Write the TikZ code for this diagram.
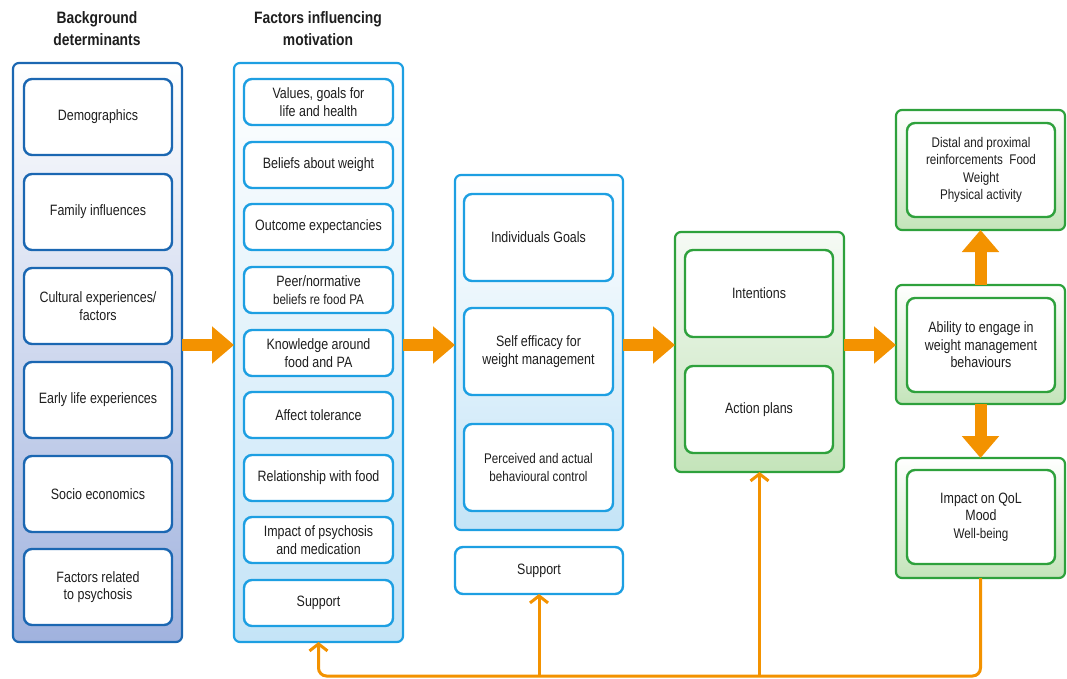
\documentclass[tikz,border=0pt]{standalone}
\usepackage{fontspec}
\setmainfont{Liberation Sans}[FakeStretch=0.83]
\newfontfamily\titlefont{Liberation Sans}[FakeStretch=0.84]
\usetikzlibrary{arrows.meta}
\definecolor{dblue}{HTML}{1B67B2}
\definecolor{lblue}{HTML}{1D9FE2}
\definecolor{grn}{HTML}{2EA13C}
\definecolor{org}{HTML}{F39200}
\definecolor{txt}{HTML}{1E1E1E}
\begin{document}
\begin{tikzpicture}[x=1pt,y=-1pt,
  every node/.style={inner sep=0pt, outer sep=0pt, anchor=north west, text=txt, align=center, font=\fontsize{15}{17.5}\selectfont},
  col1/.style={draw=dblue, line width=2.2pt, rounded corners=6pt, top color=white, middle color=blue!3, bottom color={rgb,255:red,160;green,178;blue,222}},
  col2/.style={draw=lblue, line width=2.2pt, rounded corners=6pt, top color=white, middle color=cyan!3, bottom color={rgb,255:red,196;green,228;blue,247}},
  col4/.style={draw=grn, line width=2.2pt, rounded corners=6pt, top color={rgb,255:red,246;green,250;blue,245}, middle color={rgb,255:red,242;green,248;blue,240}, bottom color={rgb,255:red,196;green,228;blue,186}},
  col5/.style={draw=grn, line width=2.2pt, rounded corners=6pt, top color=white, middle color=white, bottom color={rgb,255:red,196;green,228;blue,186}},
  in1/.style={draw=dblue, line width=2.4pt, rounded corners=8pt, fill=white, minimum width=148pt, minimum height=76pt},
  in2/.style={draw=lblue, line width=2.4pt, rounded corners=8pt, fill=white, minimum width=149pt, minimum height=46pt},
  in3/.style={draw=lblue, line width=2.4pt, rounded corners=8pt, fill=white, minimum width=149pt, minimum height=87pt},
  in4/.style={draw=grn, line width=2.4pt, rounded corners=8pt, fill=white, minimum width=148pt, minimum height=87pt},
  in5/.style={draw=grn, line width=2.4pt, rounded corners=8pt, fill=white, minimum width=148pt, minimum height=94pt},
  title/.style={font=\titlefont\bfseries\fontsize{16.5}{22}\selectfont, anchor=center},
  blk/.style={draw=org, line width=12pt, -{Triangle[length=22pt,width=36pt]}},
  fb/.style={draw=org, line width=3pt},
  fbtip/.style={-{Straight Barb[length=7pt,width=18pt]}}
]
\useasboundingbox (0,0) rectangle (1067,679);

% titles
\node[title] (t1) at (97,29) {Background\\determinants};
\node[title] (t2) at (318,29) {Factors influencing\\motivation};

% outer boxes
\node[col1, minimum width=169pt, minimum height=579pt] (c1) at (13,63) {};
\node[col2, minimum width=169pt, minimum height=579pt] (c2) at (234,63) {};
\node[col2, minimum width=168pt, minimum height=355pt] (c3) at (455,175) {};
\node[draw=lblue, line width=2.4pt, rounded corners=8pt, fill=white, minimum width=168pt, minimum height=47pt] (c3s) at (455,547) {Support};
\node[col4, minimum width=169pt, minimum height=240pt] (c4) at (675,232) {};
\node[col5, minimum width=169pt, minimum height=120pt] (r1) at (896,110) {};
\node[col5, minimum width=169pt, minimum height=119pt] (r2) at (896,285) {};
\node[col5, minimum width=169pt, minimum height=120pt] (r3) at (896,458) {};

% column 1
\node[in1] (a1) at (24,79) {Demographics};
\node[in1] (a2) at (24,174) {Family influences};
\node[in1] (a3) at (24,268) {Cultural experiences/\\factors};
\node[in1] (a4) at (24,362) {Early life experiences};
\node[in1] (a5) at (24,456) {Socio economics};
\node[in1] (a6) at (24,549) {Factors related\\to psychosis};

% column 2
\node[in2] (b1) at (244,79) {Values, goals for\\life and health};
\node[in2] (b2) at (244,142) {Beliefs about weight};
\node[in2] (b3) at (244,204) {Outcome expectancies};
\node[in2] (b4) at (244,267) {Peer/normative\\{\fontsize{14}{15}\selectfont beliefs re food PA}};
\node[in2] (b5) at (244,330) {Knowledge around\\food and PA};
\node[in2] (b6) at (244,392) {Affect tolerance};
\node[in2] (b7) at (244,455) {Relationship with food};
\node[in2] (b8) at (244,517) {Impact of psychosis\\and medication};
\node[in2] (b9) at (244,580) {Support};

% column 3
\node[in3] (d1) at (464,194) {Individuals Goals};
\node[in3] (d2) at (464,308) {Self efficacy for\\weight management};
\node[in3, font=\fontsize{14}{17.5}\selectfont] (d3) at (464,424) {Perceived and actual\\behavioural control};

% column 4
\node[in4] (e1) at (685,250) {Intentions};
\node[in4] (e2) at (685,366) {Action plans};

% column 5
\node[in5, font=\fontsize{14}{17.5}\selectfont] (f1) at (907,123) {Distal and proximal\\reinforcements\ \ Food\\Weight\\Physical activity};
\node[in5] (f2) at (907,298) {Ability to engage in\\weight management\\behaviours};
\node[in5] (f3) at (907,470) {Impact on QoL\\Mood\\{\fontsize{14}{17}\selectfont Well-being}};

% block arrows
\draw[blk] (c1.east |- 0,345) -- (c2.west |- 0,345);
\draw[blk] (c2.east |- 0,345) -- (c3.west |- 0,345);
\draw[blk] (c3.east |- 0,345) -- (c4.west |- 0,345);
\draw[blk] (c4.east |- 0,345) -- (r2.west |- 0,345);
\draw[blk] (r2.north) -- (r1.south);
\draw[blk] (r2.south) -- (r3.north);

% feedback lines
\coordinate (fbL) at (318.5,676);
\coordinate (fbR) at (r3.south |- fbL);
\draw[fb, fbtip, rounded corners=8pt] (r3.south) -- (fbR) -- (fbL) -- (c2.south);
\draw[fb, fbtip] (c3s.south |- fbL) -- (c3s.south);
\draw[fb, fbtip] (c4.south |- fbL) -- (c4.south);
\end{tikzpicture}
\end{document}
